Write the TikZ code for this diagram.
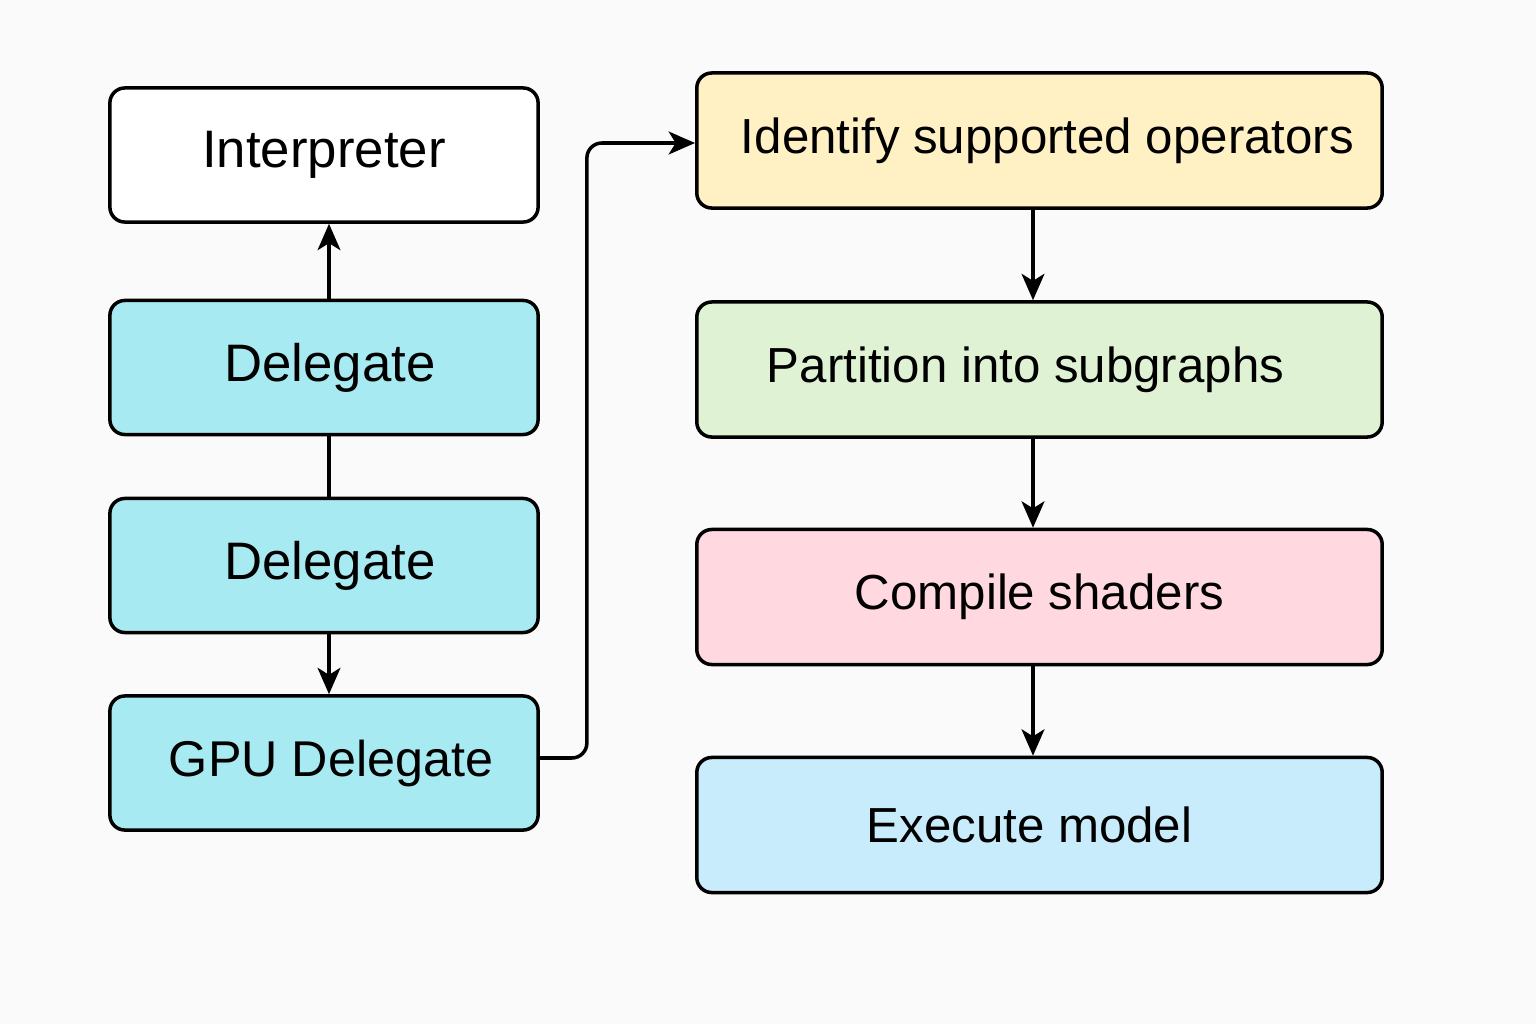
\documentclass[tikz,border=0pt]{standalone}
\usepackage{fontspec}
\setmainfont{Liberation Sans}
\usetikzlibrary{arrows.meta}
\definecolor{bg}{RGB}{250,250,250}
\definecolor{cyanbox}{RGB}{168,234,242}
\definecolor{yellowbox}{RGB}{255,241,196}
\definecolor{greenbox}{RGB}{223,243,212}
\definecolor{pinkbox}{RGB}{255,217,223}
\definecolor{bluebox}{RGB}{200,236,251}
\tikzset{
  box/.style={draw=black, line width=1pt, rounded corners=0.15cm, align=center,
    font=\fontsize{15}{18}\selectfont, inner sep=0pt},
  leftbox/.style={box, minimum width=4.28cm, minimum height=1.34cm},
  rightbox/.style={box, minimum width=6.85cm, minimum height=1.35cm,
    font=\fontsize{14}{17}\selectfont},
  conn/.style={line width=1pt, draw=black},
  arr/.style={conn, -{Stealth[length=7.5pt,width=6.5pt,inset=2pt]}}
}
\begin{document}
\begin{tikzpicture}[x=0.01cm,y=-0.01cm]
\fill[bg] (0,0) rectangle (1536,1024);
\useasboundingbox (0,0) rectangle (1536,1024);
\node[leftbox, fill=white] (interp) at (324,155) {Interpreter};
\node[leftbox, fill=cyanbox] (del1) at (324,367.5) {\hspace*{0.12cm}Delegate};
\node[leftbox, fill=cyanbox] (del2) at (324,565.5) {\hspace*{0.12cm}Delegate};
\node[leftbox, fill=cyanbox, font=\fontsize{14.3}{17}\selectfont] (gpu) at (324,763) {\hspace*{0.14cm}GPU Delegate};
\node[rightbox, fill=yellowbox] (ident) at (1039.5,140.5) {\hspace*{0.16cm}Identify supported operators};
\node[rightbox, fill=greenbox] (part) at (1039.5,369.5) {Partition into subgraphs\hspace*{0.28cm}};
\node[rightbox, fill=pinkbox] (comp) at (1039.5,597) {Compile shaders};
\node[rightbox, fill=bluebox] (exec) at (1039.5,825) {Execute model\hspace*{0.2cm}};
\draw[arr] ([xshift=0.05cm]del1.north) -- ([xshift=0.05cm]interp.south);
\draw[conn] ([xshift=0.05cm]del1.south) -- ([xshift=0.05cm]del2.north);
\draw[arr] ([xshift=0.05cm]del2.south) -- ([xshift=0.05cm]gpu.north);
\draw[arr, rounded corners=0.15cm] ([yshift=0.05cm]gpu.east) -- ++(47,0) |- ([yshift=-0.025cm]ident.west);
\draw[arr] ([xshift=-0.065cm]ident.south) -- ([xshift=-0.065cm]part.north);
\draw[arr] ([xshift=-0.065cm]part.south) -- ([xshift=-0.065cm]comp.north);
\draw[arr] ([xshift=-0.065cm]comp.south) -- ([xshift=-0.065cm]exec.north);
\end{tikzpicture}
\end{document}
